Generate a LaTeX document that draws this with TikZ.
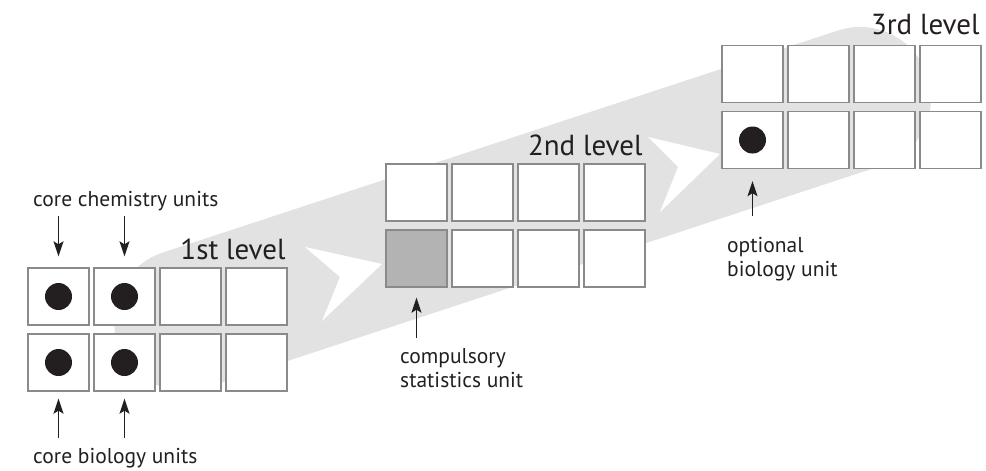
\documentclass[tikz,border=0pt]{standalone}
\usepackage{fontspec}
\setmainfont{PT Sans}
\usepackage{xcolor}
\usepackage{tikz}
\usetikzlibrary{arrows.meta,shapes}
\definecolor{bandgray}{HTML}{E2E2E2}
\definecolor{boxline}{HTML}{8A8A8A}
\definecolor{statgray}{HTML}{B3B3B3}
\definecolor{ink}{HTML}{231F20}

\begin{document}
\begin{tikzpicture}[x=1pt,y=-1pt,node distance=66pt,
    every node/.style={inner sep=0pt,minimum size=0pt,text=ink},
    unit/.style={draw=boxline,fill=white,line width=1.4pt,minimum width=61pt,minimum height=57pt},
    dot/.style={circle,fill=ink,minimum size=27pt},
    lvl/.style={font=\fontsize{29}{29}\selectfont,anchor=base east},
    lbl/.style={font=\fontsize{21.5}{24}\selectfont,align=left},
    pointer/.style={draw=ink,line width=1.5pt,-{Stealth[length=15pt,width=10pt,inset=3pt]}}]
    \useasboundingbox (0,0) rectangle (986,471);

    \path[draw=bandgray,line width=142pt,line cap=round](185,320) -- (860,98);
    \path[fill=white](305,247) -- (382,264) -- (322,321) -- (340,277) -- cycle;
    \path[fill=white](648,137) -- (720,154) -- (660,212) -- (678,167) -- cycle;

    \node(a1)[unit] at (58.5,296.5) {};
    \node(a2)[unit,right of=a1] {};
    \node(a3)[unit,right of=a2] {};
    \node(a4)[unit,right of=a3] {};
    \node(a5)[unit,below of=a1] {};
    \node(a6)[unit,right of=a5] {};
    \node(a7)[unit,right of=a6] {};
    \node(a8)[unit,right of=a7] {};

    \node(b1)[unit] at (416.5,192.5) {};
    \node(b2)[unit,right of=b1] {};
    \node(b3)[unit,right of=b2] {};
    \node(b4)[unit,right of=b3] {};
    \node(b5)[unit,fill=statgray,below of=b1] {};
    \node(b6)[unit,right of=b5] {};
    \node(b7)[unit,right of=b6] {};
    \node(b8)[unit,right of=b7] {};

    \node(c1)[unit] at (752.5,74) {};
    \node(c2)[unit,right of=c1] {};
    \node(c3)[unit,right of=c2] {};
    \node(c4)[unit,right of=c3] {};
    \node(c5)[unit,below of=c1] {};
    \node(c6)[unit,right of=c5] {};
    \node(c7)[unit,right of=c6] {};
    \node(c8)[unit,right of=c7] {};

    \node(d1)[dot] at (a1) {};
    \node(d2)[dot] at (a2) {};
    \node(d5)[dot] at (a5) {};
    \node(d6)[dot] at (a6) {};
    \node(d9)[dot] at (c5) {};

    \node(l1)[lvl,xshift=-2pt,yshift=8pt] at (a4.north east) {1st level};
    \node(l2)[lvl,xshift=-3pt,yshift=8pt] at (b4.north east) {2nd level};
    \node(l3)[lvl,xshift=-2pt,yshift=10pt] at (c4.north east) {3rd level};

    \node(chem)[lbl,anchor=base west] at (33,206) {core chemistry units};
    \node(bio)[lbl,anchor=base west] at (33,463) {core biology units};
    \node(stat)[lbl,anchor=base west] at (400,387) {compulsory\\statistics unit};
    \node(opt)[lbl,anchor=base west] at (727,276) {optional\\biology unit};

    \coordinate(p1) at ([yshift=51pt]a1.north);
    \coordinate(p2) at ([yshift=51pt]a2.north);
    \coordinate(p5) at ([yshift=-46pt]a5.south);
    \coordinate(p6) at ([yshift=-46pt]a6.south);
    \coordinate(q5) at ([yshift=-50pt]b5.south);
    \coordinate(r5) at ([yshift=-47pt]c5.south);

    \path[pointer,shorten >=11pt](p1) -- (a1);
    \path[pointer,shorten >=11pt](p2) -- (a2);
    \path[pointer,shorten >=7pt](p5) -- (a5);
    \path[pointer,shorten >=7pt](p6) -- (a6);
    \path[pointer,shorten >=10pt](q5) -- (b5);
    \path[pointer,shorten >=12pt](r5) -- (c5);

  \end{tikzpicture}
\end{document}
